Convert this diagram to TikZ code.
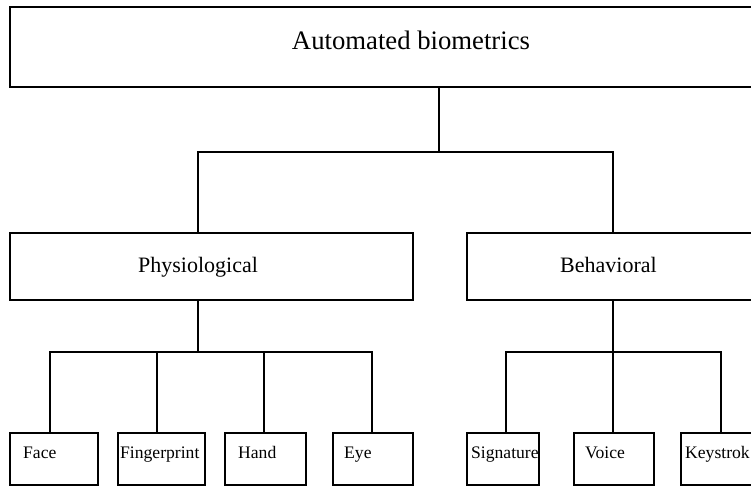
\documentclass[tikz,border=0pt]{standalone}
\usepackage{fontspec}
\setmainfont{Liberation Serif}
\begin{document}
\begin{tikzpicture}[x=1pt,y=-1pt,
  box/.style={draw=black, line width=1.5pt, rectangle, inner sep=0pt, anchor=north west},
  conn/.style={draw=black, line width=1.5pt},
  lblA/.style={font=\fontsize{26.7}{30}\selectfont, inner sep=0pt},
  lblB/.style={font=\fontsize{22}{26}\selectfont, inner sep=0pt, anchor=base west},
  lblC/.style={font=\fontsize{17.6}{20}\selectfont, inner sep=0pt, anchor=base west}]
\useasboundingbox (0,0) rectangle (751,485);
\clip (0,0) rectangle (751,485);
\fill[white] (0,0) rectangle (751,485);
% level 0
\node[box, minimum width=900pt, minimum height=80pt] (top) at (9,6) {};
\node[lblA, anchor=base] (toptxt) at (411,49) {Automated biometrics};
% level 1
\node[box, minimum width=403pt, minimum height=67pt] (phys) at (9,232) {};
\node[lblB] (physt) at (138,272) {Physiological};
\node[box, minimum width=400pt, minimum height=67pt] (behav) at (466,232) {};
\node[lblB] (behavt) at (560,272) {Behavioral};
% level 2
\node[box, minimum width=88pt, minimum height=52pt] (face) at (9,432) {};
\node[box, minimum width=87pt, minimum height=52pt] (finger) at (117,432) {};
\node[box, minimum width=81pt, minimum height=52pt] (hand) at (224,432) {};
\node[box, minimum width=80pt, minimum height=52pt] (eye) at (332,432) {};
\node[box, minimum width=72pt, minimum height=52pt] (sig) at (466,432) {};
\node[box, minimum width=80pt, minimum height=52pt] (voice) at (573,432) {};
\node[box, minimum width=120pt, minimum height=52pt] (key) at (680,432) {};
\node[lblC] (facet) at (23,458) {Face};
\node[lblC] (fingert) at (120,458) {Fingerprint};
\node[lblC] (handt) at (238,458) {Hand};
\node[lblC] (eyet) at (344,458) {Eye};
\node[lblC] (sigt) at (471,458) {Signature};
\node[lblC] (voicet) at (585,458) {Voice};
\node[lblC] (keyt) at (685,458) {Keystrok};
% junctions
\coordinate (j0) at (439,152);
\coordinate (xa) at (198,0);
\coordinate (xb) at (613,0);
\coordinate (j1) at (198,352);
\coordinate (j2) at (613,352);
\coordinate (x1) at (50,0);
\coordinate (x2) at (157,0);
\coordinate (x3) at (264,0);
\coordinate (x4) at (372,0);
\coordinate (x5) at (506,0);
\coordinate (x6) at (721,0);
\draw[conn] (top.south -| j0) -- (j0);
\draw[conn] (phys.north -| xa) |- (j0) -| (behav.north -| xb);
\draw[conn] (phys.south -| xa) -- (j1);
\draw[conn] (behav.south -| xb) -- (j2);
\draw[conn] (face.north -| x1) |- (j1) -| (eye.north -| x4);
\draw[conn] (finger.north -| x2) -- (j1 -| x2);
\draw[conn] (hand.north -| x3) -- (j1 -| x3);
\draw[conn] (sig.north -| x5) |- (j2) -| (key.north -| x6);
\draw[conn] (voice.north -| xb) -- (j2);
\end{tikzpicture}
\end{document}
